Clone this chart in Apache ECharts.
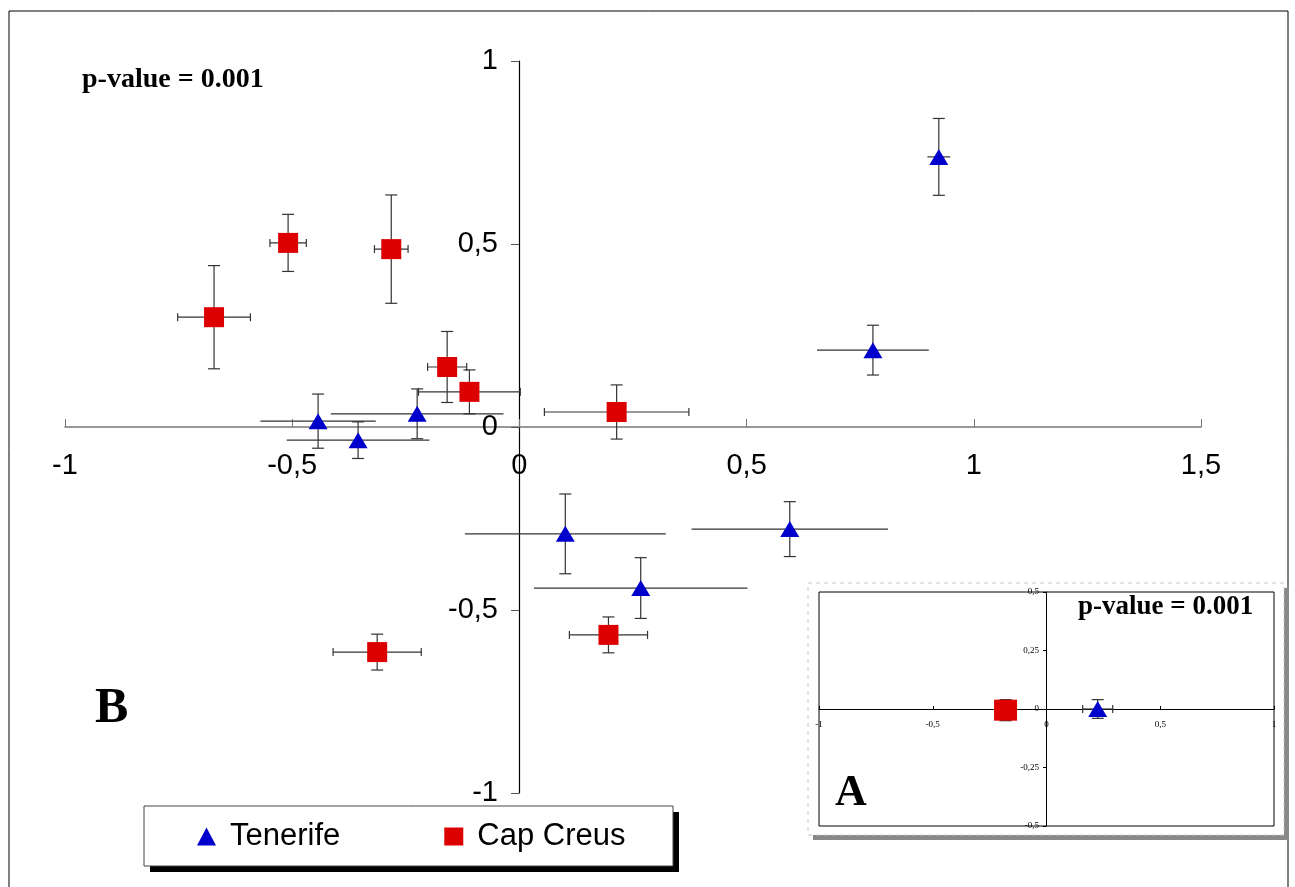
<!DOCTYPE html>
<html>
<head>
<meta charset="utf-8">
<script src="https://cdn.jsdelivr.net/npm/echarts@6/dist/echarts.min.js"></script>
<style>
  html, body { margin:0; padding:0; background:#fff; }
  #chart { width:1295px; height:887px; }
</style>
</head>
<body>
<div id="chart"></div>
<script>
// main plot (B)
var tenX    = [0.923, 0.778, 0.101, 0.267, 0.595, -0.443, -0.355, -0.225];
var tenY    = [0.738, 0.210, -0.292, -0.440, -0.279, 0.016, -0.036, 0.036];
var tenXErr = [0.025, 0.123, 0.221, 0.235, 0.216, 0.127, 0.157, 0.190];
var tenYErr = [0.105, 0.068, 0.109, 0.083, 0.075, 0.074, 0.050, 0.068];

var capX    = [-0.672, -0.509, -0.282, -0.159, -0.110, 0.214, 0.196, -0.313];
var capY    = [0.300, 0.503, 0.486, 0.164, 0.096, 0.041, -0.568, -0.615];
var capXErr = [0.080, 0.040, 0.037, 0.043, 0.112, 0.159, 0.086, 0.097];
var capYErr = [0.141, 0.078, 0.148, 0.097, 0.060, 0.074, 0.049, 0.049];

// inset (A)
var inTenX = [0.225], inTenY = [0], inTenXErr = [0.066], inTenYErr = [0.04];
var inCapX = [-0.18], inCapY = [-0.005], inCapXErr = [0.02], inCapYErr = [0.045];

var seriesNames = ['Tenerife', 'Cap Creus'];
var pText = 'p-value = 0.001';

function zip(xs, ys, ex, ey) {
    var out = [];
    for (var i = 0; i < xs.length; i++) {
        out.push(ey ? [xs[i], ys[i], ex[i], ey[i]] : [xs[i], ys[i]]);
    }
    return out;
}

function comma(v) { return String(v).replace('.', ','); }

function errBars(xCaps, capW) {
    return function (params, api) {
        var x = api.value(0), y = api.value(1), ex = api.value(2), ey = api.value(3);
        var l = api.coord([x - ex, y]), r = api.coord([x + ex, y]);
        var t = api.coord([x, y + ey]), b = api.coord([x, y - ey]);
        var st = { stroke: '#333', lineWidth: 1.2 };
        var kids = [
            { type: 'line', shape: { x1: l[0], y1: l[1], x2: r[0], y2: r[1] }, style: st },
            { type: 'line', shape: { x1: t[0], y1: t[1], x2: b[0], y2: b[1] }, style: st },
            { type: 'line', shape: { x1: t[0] - capW, y1: t[1], x2: t[0] + capW, y2: t[1] }, style: st },
            { type: 'line', shape: { x1: b[0] - capW, y1: b[1], x2: b[0] + capW, y2: b[1] }, style: st }
        ];
        if (xCaps) {
            kids.push({ type: 'line', shape: { x1: l[0], y1: l[1] - 4, x2: l[0], y2: l[1] + 4 }, style: st });
            kids.push({ type: 'line', shape: { x1: r[0], y1: r[1] - 4, x2: r[0], y2: r[1] + 4 }, style: st });
        }
        return { type: 'group', children: kids };
    };
}

var chart = echarts.init(document.getElementById('chart'));

var option = {
    animation: false,
    backgroundColor: '#fff',
    grid: [
        { left: 65, right: 94, top: 61, bottom: 94, outerBoundsMode: 'none', containLabel: false },
        { left: 819, right: 21, top: 592, bottom: 61, outerBoundsMode: 'none', containLabel: false,
          show: true, borderColor: '#000', borderWidth: 1, backgroundColor: 'transparent' }
    ],
    xAxis: [
        {
            gridIndex: 0, type: 'value', min: -1, max: 1.5, interval: 0.5,
            position: 'bottom', offset: -366,
            axisLine: { onZero: false, lineStyle: { color: '#777', width: 1.5 } },
            axisTick: { inside: true, length: 8, lineStyle: { color: '#777' } },
            axisLabel: { formatter: comma, color: '#000', fontFamily: 'Liberation Sans', fontSize: 29, margin: 24 },
            splitLine: { show: false }
        },
        {
            gridIndex: 1, type: 'value', min: -1, max: 1, interval: 0.5,
            position: 'bottom', offset: -117, z: 6,
            axisLine: { onZero: false, lineStyle: { color: '#000', width: 1 } },
            axisTick: { inside: true, length: 3, lineStyle: { color: '#000' } },
            axisLabel: { formatter: comma, color: '#000', fontFamily: 'Liberation Serif', fontSize: 9, margin: 11 },
            splitLine: { show: false }
        }
    ],
    yAxis: [
        {
            gridIndex: 0, type: 'value', min: -1, max: 1, interval: 0.5,
            position: 'left', offset: -454,
            axisLine: { onZero: false, lineStyle: { color: '#000', width: 1.2 } },
            axisTick: { length: 8, lineStyle: { color: '#555' } },
            axisLabel: { formatter: comma, color: '#000', fontFamily: 'Liberation Sans', fontSize: 29, margin: 21 },
            splitLine: { show: false }
        },
        {
            gridIndex: 1, type: 'value', min: -0.5, max: 0.5, interval: 0.25,
            position: 'left', offset: -227, z: 6,
            axisLine: { onZero: false, lineStyle: { color: '#000', width: 1 } },
            axisTick: { length: 3, lineStyle: { color: '#000' } },
            axisLabel: { formatter: comma, color: '#000', fontFamily: 'Liberation Serif', fontSize: 9, margin: 7 },
            splitLine: { show: false }
        }
    ],
    legend: {
        data: [
            { name: seriesNames[0], icon: 'triangle' },
            { name: seriesNames[1], icon: 'rect' }
        ],
        left: 197, top: 821, z: 12,
        orient: 'horizontal',
        itemWidth: 19, itemHeight: 18, itemGap: 104,
        padding: 0,
        textStyle: { fontFamily: 'Liberation Sans', fontSize: 31, color: '#000', padding: [0, 0, 0, 9] },
        selectedMode: false
    },
    graphic: [
        { type: 'rect', z: -10, shape: { x: 9, y: 11, width: 1279, height: 890 }, style: { fill: '#fff', stroke: '#000', lineWidth: 1 } },
        { type: 'text', left: 82, top: 66, style: { text: pText, font: 'bold 28px "Liberation Serif"', fill: '#000' } },
        { type: 'text', left: 95, top: 684, style: { text: 'B', font: 'bold 50px "Liberation Serif"', fill: '#000' } },
        { type: 'rect', z: -5, shape: { x: 813, y: 588, width: 476, height: 252 }, style: { fill: '#888' } },
        { type: 'rect', z: -4, shape: { x: 808, y: 583, width: 476, height: 252 }, style: { fill: '#fff', stroke: '#c8c8c8', lineWidth: 1, lineDash: [4, 4] } },
        { type: 'text', z: 10, left: 1078, top: 594, style: { text: pText, font: 'bold 27px "Liberation Serif"', fill: '#000' } },
        { type: 'text', z: 10, left: 835, top: 772, style: { text: 'A', font: 'bold 44px "Liberation Serif"', fill: '#000' } },
        // legend frame
        { type: 'rect', z: 10, shape: { x: 150, y: 812, width: 529, height: 60 }, style: { fill: '#000' } },
        { type: 'rect', z: 11, shape: { x: 144, y: 806, width: 529, height: 60 }, style: { fill: '#fff', stroke: '#444', lineWidth: 1 } }
    ],
    series: [
        {
            type: 'custom', xAxisIndex: 0, yAxisIndex: 0, z: 2,
            renderItem: errBars(false, 6), encode: { x: 0, y: 1 },
            data: zip(tenX, tenY, tenXErr, tenYErr), silent: true
        },
        {
            type: 'custom', xAxisIndex: 0, yAxisIndex: 0, z: 2,
            renderItem: errBars(true, 6), encode: { x: 0, y: 1 },
            data: zip(capX, capY, capXErr, capYErr), silent: true
        },
        {
            name: seriesNames[0], type: 'scatter', xAxisIndex: 0, yAxisIndex: 0, z: 5,
            symbol: 'triangle', symbolSize: [19, 16],
            itemStyle: { color: '#0000cc', opacity: 1 },
            data: zip(tenX, tenY)
        },
        {
            name: seriesNames[1], type: 'scatter', xAxisIndex: 0, yAxisIndex: 0, z: 5,
            symbol: 'rect', symbolSize: 20,
            itemStyle: { color: '#dd0000', opacity: 1 },
            data: zip(capX, capY)
        },
        {
            type: 'custom', xAxisIndex: 1, yAxisIndex: 1, z: 7,
            renderItem: errBars(true, 6), encode: { x: 0, y: 1 },
            data: zip(inTenX, inTenY, inTenXErr, inTenYErr), silent: true
        },
        {
            type: 'custom', xAxisIndex: 1, yAxisIndex: 1, z: 7,
            renderItem: errBars(false, 6), encode: { x: 0, y: 1 },
            data: zip(inCapX, inCapY, inCapXErr, inCapYErr), silent: true
        },
        {
            name: seriesNames[0], type: 'scatter', xAxisIndex: 1, yAxisIndex: 1, z: 8,
            symbol: 'triangle', symbolSize: [19, 16],
            itemStyle: { color: '#0000cc', opacity: 1 },
            data: zip(inTenX, inTenY)
        },
        {
            name: seriesNames[1], type: 'scatter', xAxisIndex: 1, yAxisIndex: 1, z: 8,
            symbol: 'rect', symbolSize: [23, 21],
            itemStyle: { color: '#dd0000', opacity: 1 },
            data: zip(inCapX, inCapY)
        }
    ]
};

chart.setOption(option);
</script>
</body>
</html>
